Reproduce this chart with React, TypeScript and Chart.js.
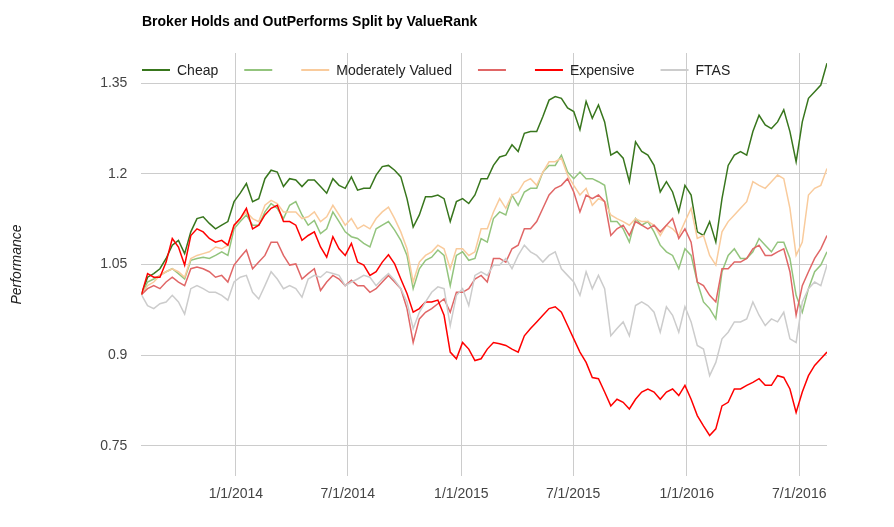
import React, { useEffect, useRef } from "react";
import { Chart, registerables } from "chart.js";

Chart.register(...registerables);

const TITLE = "Broker Holds and OutPerforms Split by ValueRank";
const Y_TITLE = "Performance";

// Sampling grid: every 10 days starting 1 Aug 2013
const START_UTC = Date.UTC(2013, 7, 1);
const STEP_DAYS = 10;
const DAY_MS = 86400000;

const SERIES_NAMES = ["Cheap", "", "Moderately Valued", "", "Expensive", "FTAS"];
const SERIES_COLORS = ["#38761d", "#93c47d", "#f9cb9c", "#e06666", "#ff0000", "#cccccc"];

const CHEAP = [
  1.000, 1.029, 1.035, 1.043, 1.060, 1.082, 1.090, 1.068, 1.104, 1.126, 1.129, 1.118, 1.109, 1.115, 1.121, 1.154, 1.168, 1.184, 1.154,
  1.159, 1.192, 1.206, 1.203, 1.179, 1.192, 1.190, 1.179, 1.190, 1.190, 1.179, 1.168, 1.192, 1.181, 1.176, 1.195, 1.173, 1.176, 1.176,
  1.198, 1.212, 1.214, 1.206, 1.195, 1.159, 1.112, 1.132, 1.162, 1.162, 1.165, 1.159, 1.121, 1.154, 1.159, 1.151, 1.165, 1.192,
  1.192, 1.214, 1.228, 1.231, 1.248, 1.237, 1.267, 1.270, 1.270, 1.295, 1.322, 1.328, 1.325, 1.309, 1.303, 1.273, 1.320, 1.292, 1.314,
  1.286, 1.231, 1.237, 1.226, 1.187, 1.253, 1.237, 1.231, 1.214, 1.170, 1.187, 1.170, 1.137, 1.181, 1.165, 1.104, 1.098, 1.121,
  1.087, 1.159, 1.214, 1.231, 1.237, 1.231, 1.270, 1.297, 1.281, 1.275, 1.286, 1.306, 1.270, 1.220, 1.286, 1.325, 1.336, 1.347, 1.383,
];

const CHEAP_LIGHT = [
  1.000, 1.021, 1.026, 1.032, 1.038, 1.043, 1.035, 1.026, 1.057, 1.060, 1.062, 1.060, 1.065, 1.071, 1.065, 1.109, 1.121, 1.132, 1.115,
  1.115, 1.137, 1.151, 1.143, 1.126, 1.148, 1.154, 1.132, 1.115, 1.123, 1.101, 1.109, 1.137, 1.121, 1.104, 1.096, 1.093, 1.085, 1.079,
  1.109, 1.115, 1.121, 1.107, 1.090, 1.065, 1.010, 1.043, 1.057, 1.062, 1.074, 1.065, 1.015, 1.065, 1.071, 1.057, 1.060, 1.093,
  1.087, 1.126, 1.137, 1.132, 1.165, 1.148, 1.170, 1.176, 1.176, 1.203, 1.214, 1.214, 1.231, 1.203, 1.192, 1.203, 1.192, 1.192, 1.187,
  1.181, 1.121, 1.121, 1.109, 1.087, 1.126, 1.115, 1.121, 1.104, 1.082, 1.071, 1.065, 1.043, 1.076, 1.065, 1.021, 0.988, 0.977,
  0.960, 1.038, 1.065, 1.076, 1.060, 1.060, 1.071, 1.093, 1.082, 1.071, 1.087, 1.087, 1.060, 0.999, 0.971, 1.010, 1.038, 1.049, 1.071,
];

const MODERATE = [
  1.000, 1.015, 1.021, 1.032, 1.038, 1.043, 1.038, 1.029, 1.060, 1.065, 1.068, 1.071, 1.079, 1.076, 1.082, 1.115, 1.126, 1.137, 1.126,
  1.121, 1.148, 1.156, 1.151, 1.137, 1.137, 1.137, 1.126, 1.129, 1.137, 1.121, 1.129, 1.148, 1.132, 1.115, 1.126, 1.109, 1.115, 1.109,
  1.126, 1.137, 1.145, 1.126, 1.104, 1.076, 1.021, 1.054, 1.065, 1.071, 1.082, 1.076, 1.043, 1.076, 1.076, 1.065, 1.071, 1.109,
  1.109, 1.137, 1.159, 1.143, 1.165, 1.170, 1.187, 1.192, 1.181, 1.203, 1.220, 1.220, 1.226, 1.198, 1.181, 1.165, 1.176, 1.148, 1.159,
  1.154, 1.132, 1.126, 1.121, 1.115, 1.126, 1.121, 1.121, 1.115, 1.098, 1.115, 1.109, 1.098, 1.121, 1.143, 1.093, 1.098, 1.065,
  1.049, 1.104, 1.121, 1.132, 1.143, 1.154, 1.187, 1.181, 1.176, 1.187, 1.198, 1.192, 1.143, 1.065, 1.087, 1.165, 1.176, 1.181, 1.209,
];

const EXPENSIVE_LIGHT = [
  1.000, 1.010, 1.015, 1.010, 1.021, 1.029, 1.021, 1.015, 1.043, 1.046, 1.043, 1.038, 1.029, 1.032, 1.021, 1.049, 1.062, 1.074, 1.043,
  1.054, 1.065, 1.087, 1.087, 1.065, 1.049, 1.051, 1.026, 1.035, 1.043, 1.007, 1.021, 1.032, 1.026, 1.015, 1.024, 1.015, 1.015, 1.004,
  1.010, 1.021, 1.032, 1.021, 1.010, 0.977, 0.921, 0.960, 0.971, 0.977, 0.985, 0.993, 0.971, 1.004, 1.004, 1.010, 1.026, 1.032,
  1.021, 1.060, 1.060, 1.054, 1.076, 1.082, 1.109, 1.109, 1.121, 1.143, 1.165, 1.176, 1.181, 1.192, 1.170, 1.137, 1.165, 1.159, 1.165,
  1.154, 1.098, 1.109, 1.115, 1.098, 1.121, 1.115, 1.109, 1.115, 1.104, 1.115, 1.126, 1.093, 1.109, 1.087, 1.021, 1.015, 0.999,
  0.988, 1.043, 1.043, 1.054, 1.054, 1.060, 1.076, 1.082, 1.065, 1.065, 1.071, 1.076, 1.038, 0.966, 1.015, 1.038, 1.060, 1.076, 1.098,
];

const EXPENSIVE = [
  1.000, 1.035, 1.029, 1.029, 1.054, 1.093, 1.079, 1.049, 1.098, 1.109, 1.104, 1.093, 1.087, 1.090, 1.082, 1.115, 1.126, 1.143, 1.109,
  1.115, 1.132, 1.143, 1.148, 1.121, 1.121, 1.115, 1.090, 1.098, 1.104, 1.079, 1.062, 1.096, 1.076, 1.065, 1.085, 1.054, 1.049, 1.032,
  1.038, 1.054, 1.066, 1.051, 1.026, 1.002, 0.971, 0.977, 0.988, 0.988, 0.991, 0.966, 0.905, 0.894, 0.921, 0.910, 0.891, 0.894,
  0.910, 0.921, 0.919, 0.916, 0.910, 0.905, 0.932, 0.944, 0.955, 0.966, 0.977, 0.980, 0.971, 0.949, 0.927, 0.905, 0.888, 0.863, 0.861,
  0.839, 0.816, 0.827, 0.822, 0.811, 0.827, 0.839, 0.844, 0.839, 0.827, 0.839, 0.844, 0.833, 0.850, 0.827, 0.800, 0.783, 0.767,
  0.778, 0.816, 0.822, 0.844, 0.844, 0.850, 0.855, 0.861, 0.850, 0.850, 0.866, 0.863, 0.844, 0.805, 0.839, 0.866, 0.883, 0.894, 0.905,
];

const FTAS = [
  1.000, 0.982, 0.977, 0.985, 0.988, 0.999, 0.988, 0.968, 1.010, 1.015, 1.010, 1.004, 1.004, 0.999, 0.991, 1.021, 1.029, 1.032, 1.004,
  0.993, 1.015, 1.038, 1.026, 1.010, 1.015, 1.010, 0.996, 1.026, 1.032, 1.029, 1.038, 1.035, 1.032, 1.015, 1.021, 1.026, 1.032, 1.029,
  1.015, 1.026, 1.035, 1.024, 1.010, 0.988, 0.944, 0.971, 0.988, 1.004, 1.013, 1.010, 0.949, 0.999, 1.010, 0.982, 1.032, 1.038,
  1.032, 1.049, 1.049, 1.060, 1.043, 1.065, 1.082, 1.071, 1.065, 1.054, 1.065, 1.071, 1.043, 1.032, 1.021, 0.999, 1.038, 1.010, 1.032,
  1.010, 0.932, 0.944, 0.955, 0.932, 0.982, 0.988, 0.982, 0.971, 0.938, 0.980, 0.966, 0.938, 0.980, 0.955, 0.916, 0.910, 0.866,
  0.888, 0.927, 0.938, 0.955, 0.955, 0.960, 0.988, 0.966, 0.949, 0.960, 0.955, 0.971, 0.927, 0.921, 0.988, 1.010, 1.021, 1.015, 1.049,
];

const SERIES_VALUES = [CHEAP, CHEAP_LIGHT, MODERATE, EXPENSIVE_LIGHT, EXPENSIVE, FTAS];

const X_TICK_DATES = [
  Date.UTC(2014, 0, 1),
  Date.UTC(2014, 6, 1),
  Date.UTC(2015, 0, 1),
  Date.UTC(2015, 6, 1),
  Date.UTC(2016, 0, 1),
  Date.UTC(2016, 6, 1),
];
const X_TICK_LABELS = ["1/1/2014", "7/1/2014", "1/1/2015", "7/1/2015", "1/1/2016", "7/1/2016"];

const Y_MIN = 0.7;
const Y_MAX = 1.4;
const Y_TICKS = [0.75, 0.9, 1.05, 1.2, 1.35];
const Y_TICK_LABELS = ["0.75", "0.9", "1.05", "1.2", "1.35"];

const FONT = '"Liberation Sans", Arial, Helvetica, sans-serif';

const dayOf = (utc: number) => Math.round((utc - START_UTC) / DAY_MS);
const X_DAYS = CHEAP.map((_, i) => i * STEP_DAYS);
const X_TICK_DAYS = X_TICK_DATES.map(dayOf);

const overlayPlugin = {
  id: "overlayText",
  afterDraw(chart: any) {
    const ctx = chart.ctx as CanvasRenderingContext2D;
    const area = chart.chartArea;
    ctx.save();
    // Title
    ctx.textAlign = "left";
    ctx.textBaseline = "middle";
    ctx.fillStyle = "#000000";
    ctx.font = `bold 14px ${FONT}`;
    ctx.fillText(TITLE, 142, 22);

    // Legend
    ctx.font = `14px ${FONT}`;
    let x = 142;
    const y = 70;
    SERIES_NAMES.forEach((name, i) => {
      ctx.strokeStyle = SERIES_COLORS[i];
      ctx.lineWidth = 2;
      ctx.beginPath();
      ctx.moveTo(x, y);
      ctx.lineTo(x + 28, y);
      ctx.stroke();
      x += 28;
      if (name) {
        ctx.fillStyle = "#222222";
        ctx.fillText(name, x + 7, y + 1);
        x += 7 + ctx.measureText(name).width + 26;
      } else {
        x += 29;
      }
    });

    // Y axis title
    ctx.translate(17, (area.top + area.bottom) / 2);
    ctx.rotate(-Math.PI / 2);
    ctx.textAlign = "center";
    ctx.font = `italic 14px ${FONT}`;
    ctx.fillStyle = "#222222";
    ctx.fillText(Y_TITLE, 0, 0);
    ctx.restore();
  },
};

export default function App() {
  const canvasRef = useRef<HTMLCanvasElement | null>(null);

  useEffect(() => {
    const canvas = canvasRef.current;
    if (!canvas) return;
    const datasets = SERIES_VALUES.map((vals, i) => ({
      label: SERIES_NAMES[i] || `series${i}`,
      data: vals.map((v, j) => ({ x: X_DAYS[j], y: v })),
      borderColor: SERIES_COLORS[i],
      backgroundColor: SERIES_COLORS[i],
      borderWidth: 1.5,
      pointRadius: 0,
      tension: 0,
      fill: false,
      order: SERIES_VALUES.length - 1 - i,
    }));

    const chart = new Chart(canvas, {
      type: "line",
      data: { datasets },
      options: {
        animation: false,
        responsive: false,
        maintainAspectRatio: false,
        layout: { padding: { left: 0, right: 67, top: 53, bottom: 0 } },
        plugins: {
          legend: { display: false },
          title: { display: false },
          tooltip: { enabled: false },
        },
        scales: {
          x: {
            type: "linear",
            min: 0,
            max: X_DAYS[X_DAYS.length - 1],
            afterBuildTicks: (axis: any) => {
              axis.ticks = X_TICK_DAYS.map((v) => ({ value: v }));
            },
            afterFit: (axis: any) => {
              axis.height = 51;
            },
            ticks: {
              autoSkip: false,
              maxRotation: 0,
              padding: 10,
              color: "#444444",
              font: { family: FONT, size: 14 },
              callback: (value: any) => {
                const idx = X_TICK_DAYS.indexOf(Number(value));
                return idx >= 0 ? X_TICK_LABELS[idx] : "";
              },
            },
            grid: { color: "#cccccc", lineWidth: 1, drawTicks: false },
            border: { display: false },
          },
          y: {
            type: "linear",
            min: Y_MIN,
            max: Y_MAX,
            afterBuildTicks: (axis: any) => {
              axis.ticks = Y_TICKS.map((v) => ({ value: v }));
            },
            afterFit: (axis: any) => {
              axis.width = 141.4;
            },
            ticks: {
              padding: 14,
              color: "#444444",
              font: { family: FONT, size: 14 },
              callback: (value: any) => {
                const idx = Y_TICKS.findIndex((t) => Math.abs(t - Number(value)) < 1e-6);
                return idx >= 0 ? Y_TICK_LABELS[idx] : "";
              },
            },
            grid: { color: "#cccccc", lineWidth: 1, drawTicks: false },
            border: { display: false },
          },
        },
      },
      plugins: [overlayPlugin],
    } as any);

    return () => {
      chart.destroy();
    };
  }, []);

  return (
    <div style={{ position: "fixed", left: 0, top: 0, width: 894, height: 527, background: "#ffffff" }}>
      <canvas ref={canvasRef} width={894} height={527} style={{ display: "block", width: 894, height: 527 }} />
    </div>
  );
}
